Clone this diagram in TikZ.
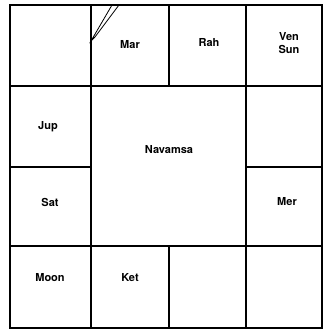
\documentclass[tikz,border=0pt]{standalone}
\usepackage{fontspec}
\setmainfont{TeX Gyre Heros}
\begin{document}
\begin{tikzpicture}[x=1pt,y=1pt,line width=1.2pt,
  planet/.style={font=\bfseries\fontsize{11}{12.5}\selectfont,align=center,inner sep=1pt}]
  \useasboundingbox (0,0) rectangle (328,331);
  % chart frame; columns at x=10,91,169,246,322 and rows at y=3,85,164,245,326
  \draw (10,3) rectangle (322,326);
  \draw (91,3) -- (91,326);
  \draw (246,3) -- (246,326);
  \draw (169,245) -- (169,326);
  \draw (169,3) -- (169,85);
  \draw (10,245) -- (322,245);
  \draw (10,85) -- (322,85);
  % side cells only; the middle is the big Navamsa box
  \draw (10,164) -- (91,164);
  \draw (246,164) -- (322,164);

  % double stroke in the corner of the Mar cell
  \draw[line width=0.8pt] (91,290) -- (112,326) -- (119,326) -- (95,294) -- cycle;

  % cell contents
  \node[planet] (mar) at (130,286) {Mar};
  \node[planet] (rah) at (209,288) {Rah};
  \node[planet] (vensun) at (289,288) {Ven\\Sun};
  \node[planet] (jup) at (48,204) {Jup};
  \node[planet] (nav) at (169,181) {Navamsa};
  \node[planet] (sat) at (50,129) {Sat};
  \node[planet] (mer) at (287,129) {Mer};
  \node[planet] (moon) at (50,53) {Moon};
  \node[planet] (ket) at (130,53) {Ket};
\end{tikzpicture}
\end{document}
